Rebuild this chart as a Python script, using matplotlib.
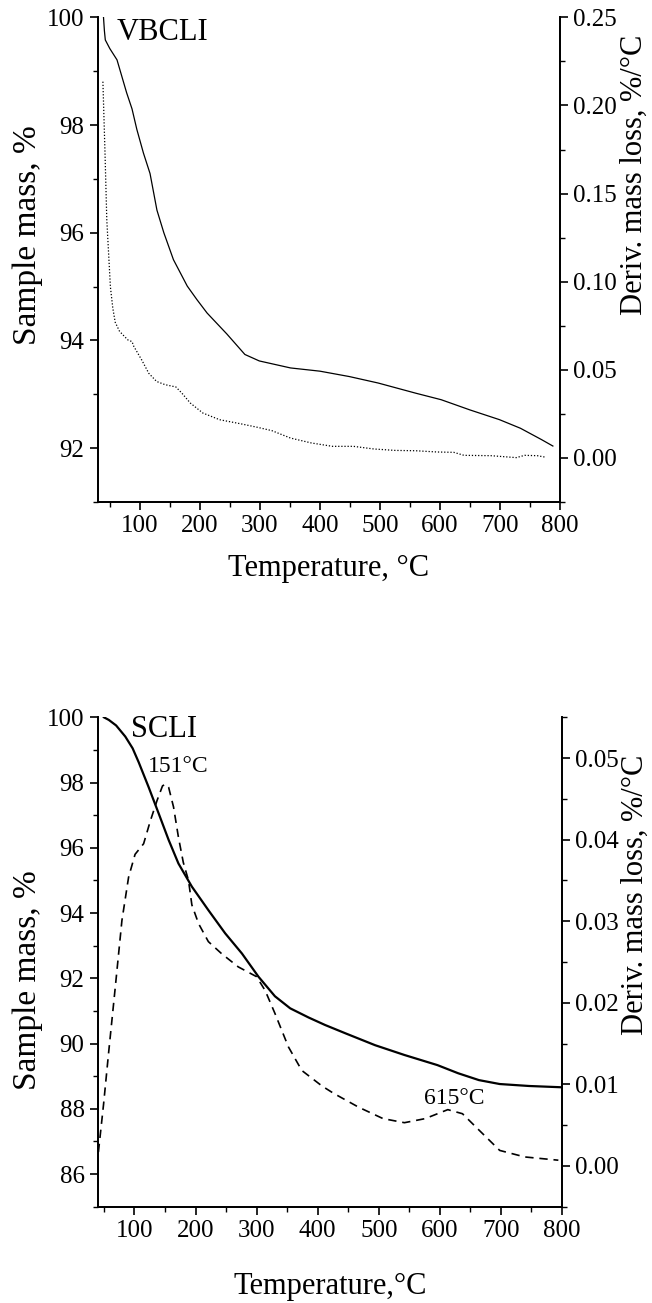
import matplotlib
matplotlib.use("Agg")
import matplotlib.pyplot as plt
from matplotlib.ticker import MultipleLocator, FormatStrFormatter

plt.rcParams['font.family'] = ['Liberation Serif', 'DejaVu Serif']

# VBCLI (top panel)
vbcli_tg_T = [39.5, 41, 42.5, 50, 62, 78, 87, 95, 106, 117, 128.5, 140, 156,
              179, 195, 212, 245, 275, 299, 351, 400, 449, 497, 560, 602, 650,
              699, 734, 769, 788]
vbcli_tg = [100.0, 99.75, 99.58, 99.42, 99.21, 98.6, 98.3, 97.92, 97.48, 97.1,
            96.42, 96.0, 95.5, 95.01, 94.76, 94.51, 94.12, 93.74, 93.62, 93.49,
            93.43, 93.33, 93.21, 93.02, 92.9, 92.71, 92.53, 92.37, 92.16, 92.04]

vbcli_dtg_T = [38.5, 42, 45, 51, 55, 59, 66, 70, 80, 87, 90, 103, 115, 128, 142,
               160, 170, 184, 205, 233, 268, 296, 320, 351, 386, 421, 456, 490,
               525, 560, 595, 623, 640, 685, 727, 741, 762, 775]
vbcli_dtg = [0.2135, 0.173, 0.135, 0.097, 0.085, 0.077, 0.072, 0.0705, 0.067,
             0.066, 0.0633, 0.0557, 0.048, 0.0434, 0.0416, 0.0403, 0.0368,
             0.0312, 0.0255, 0.0217, 0.0194, 0.0174, 0.0155, 0.0113, 0.0085,
             0.0066, 0.0066, 0.0051, 0.0043, 0.0041, 0.0034, 0.0032, 0.0015,
             0.0013, 0.0002, 0.0015, 0.0013, 0.0005]

# SCLI (bottom panel)
scli_tg_T = [50, 58, 70, 85, 97, 107, 123, 139.5, 156, 172, 194, 221, 248.5,
             276, 303, 330, 355, 385, 412, 446, 494, 542, 596, 630, 664, 698,
             746, 800]
scli_tg = [100.0, 99.92, 99.75, 99.41, 99.05, 98.62, 97.87, 97.06, 96.24, 95.52,
           94.81, 94.09, 93.38, 92.76, 92.05, 91.45, 91.08, 90.8, 90.57, 90.31,
           89.95, 89.65, 89.34, 89.09, 88.88, 88.76, 88.70, 88.66]

scli_dtg_T = [41, 49.5, 57.6, 68.6, 79.5, 90.4, 101, 115, 126, 137, 146, 151,
              156, 164, 172, 180, 188.5, 194, 205, 221, 243, 270, 300, 314, 330,
              352, 374, 407, 426, 467, 507, 542, 576, 613, 637, 664, 698, 739, 794]
scli_dtg = [0.0017, 0.0076, 0.0138, 0.0219, 0.0301, 0.0354, 0.0382, 0.0395,
            0.0423, 0.0448, 0.0466, 0.0468, 0.0464, 0.0440, 0.0403, 0.0372,
            0.0350, 0.0320, 0.0297, 0.0275, 0.0260, 0.0244, 0.0232, 0.0215,
            0.0187, 0.0146, 0.0117, 0.0098, 0.0089, 0.0072, 0.0058, 0.0053,
            0.0058, 0.0069, 0.0064, 0.0044, 0.0019, 0.0011, 0.0007]

TICK_FS = 18
XLABEL_FS = 22
LEFT_FS = 24
RIGHT_FS = 22


def style_axes(ax, ax2):
    for a in (ax, ax2):
        a.spines['top'].set_visible(False)
        for s in a.spines.values():
            s.set_linewidth(1.3)
        a.tick_params(which='major', direction='out', length=6, width=1.2,
                      labelsize=TICK_FS)
        a.tick_params(which='minor', direction='out', length=3.5, width=1.0)
    ax.xaxis.set_major_locator(MultipleLocator(100))
    ax.xaxis.set_minor_locator(MultipleLocator(50))
    ax.yaxis.set_minor_locator(MultipleLocator(1))
    ax.yaxis.set_major_locator(MultipleLocator(2))


fig = plt.figure(figsize=(6.52, 13.03), dpi=100)

# ---- top panel ----
ax = fig.add_axes([0.150, 0.6147, 0.709, 0.372])
ax2 = ax.twinx()
ax.plot(vbcli_tg_T, vbcli_tg, color='black', lw=0.9)
ax2.plot(vbcli_dtg_T, vbcli_dtg, color='black', lw=0.9, ls=(0, (1, 1.5)))
ax.set_xlim(30, 800)
ax.set_ylim(91, 100)
ax2.set_ylim(-0.025, 0.25)
style_axes(ax, ax2)
ax2.yaxis.set_major_locator(MultipleLocator(0.05))
ax2.yaxis.set_minor_locator(MultipleLocator(0.025))
ax2.yaxis.set_major_formatter(FormatStrFormatter('%.2f'))
ax.set_xlabel('Temperature, °C', fontsize=XLABEL_FS, labelpad=12)
ax.set_ylabel('Sample mass, %', fontsize=LEFT_FS)
ax2.set_ylabel('Deriv. mass loss, %/°C', fontsize=RIGHT_FS)
ax.yaxis.set_label_coords(-0.119, 0.55)
ax2.yaxis.set_label_coords(1.130, 0.675)
ax.text(137, 99.71, 'VBCLI', fontsize=22, ha='center', va='center')

# ---- bottom panel ----
bx = fig.add_axes([0.150, 0.0739, 0.712, 0.3756])
bx2 = bx.twinx()
bx.plot(scli_tg_T, scli_tg, color='black', lw=1.6)
bx2.plot(scli_dtg_T, scli_dtg, color='black', lw=1.2, ls=(0, (5, 3.5)))
bx.set_xlim(40, 800)
bx.set_ylim(85, 100)
bx2.set_ylim(-0.005, 0.055)
style_axes(bx, bx2)
bx2.yaxis.set_major_locator(MultipleLocator(0.01))
bx2.yaxis.set_minor_locator(MultipleLocator(0.005))
bx2.yaxis.set_major_formatter(FormatStrFormatter('%.2f'))
bx.set_xlabel('Temperature,°C', fontsize=XLABEL_FS, labelpad=22)
bx.set_ylabel('Sample mass, %', fontsize=LEFT_FS)
bx2.set_ylabel('Deriv. mass loss, %/°C', fontsize=RIGHT_FS)
bx.yaxis.set_label_coords(-0.119, 0.463)
bx2.yaxis.set_label_coords(1.126, 0.637)
bx.text(148, 99.64, 'SCLI', fontsize=22, ha='center', va='center')
bx.text(171, 98.5, '151°C', fontsize=17, ha='center', va='center')
bx.text(623, 88.31, '615°C', fontsize=17, ha='center', va='center')

fig.savefig('out.png', dpi=100)
